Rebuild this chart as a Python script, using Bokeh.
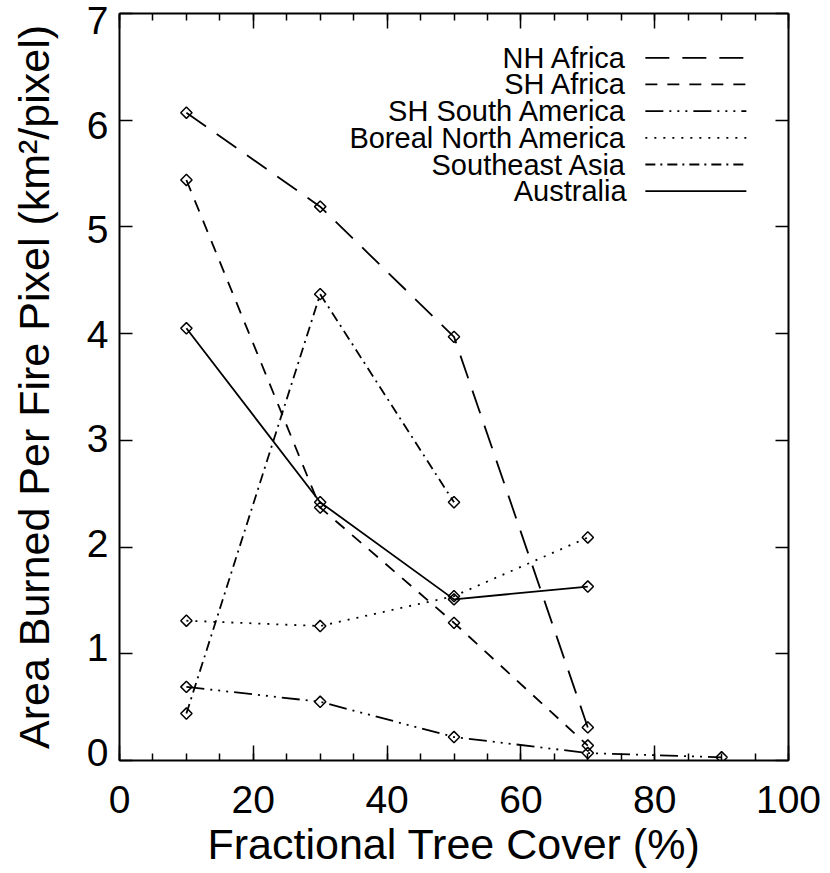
import numpy as np
from bokeh.plotting import figure
from bokeh.models import Range1d, FixedTicker, LinearAxis
from bokeh.core.properties import value
from bokeh.embed import file_html
from bokeh.resources import INLINE

# ---- data ----
names = ["NH Africa", "SH Africa", "SH South America",
         "Boreal North America", "Southeast Asia", "Australia"]
nh_africa_x = [10, 30, 50, 70]
nh_africa_y = [6.07, 5.19, 3.97, 0.31]
sh_africa_x = [10, 30, 50, 70]
sh_africa_y = [5.44, 2.37, 1.29, 0.14]
sh_samerica_x = [10, 30, 50, 70, 90]
sh_samerica_y = [0.69, 0.55, 0.22, 0.07, 0.03]
boreal_na_x = [10, 30, 50, 70]
boreal_na_y = [1.31, 1.26, 1.54, 2.09]
se_asia_x = [10, 30, 50]
se_asia_y = [0.44, 4.37, 2.42]
australia_x = [10, 30, 50, 70]
australia_y = [4.05, 2.42, 1.51, 1.63]

x_ticks = [0, 20, 40, 60, 80, 100]
x_minor = list(range(0, 101, 5))
y_ticks = [0, 1, 2, 3, 4, 5, 6, 7]

series_x = [nh_africa_x, sh_africa_x, sh_samerica_x, boreal_na_x, se_asia_x, australia_x]
series_y = [nh_africa_y, sh_africa_y, sh_samerica_y, boreal_na_y, se_asia_y, australia_y]

# ---- styles ----
dashes = ["24 13", "12 10", "18 6 2 6 2 6 2 6", "2 7", "10 5 2 5", "solid"]
FONT = "Liberation Sans"
LW = 1.8

p = figure(x_range=Range1d(0, 100), y_range=Range1d(0, 7),
           frame_width=669, frame_height=747,
           min_border_left=119, min_border_right=34,
           min_border_top=13, min_border_bottom=20,
           output_backend="svg", toolbar_location=None,
           background_fill_color="white", border_fill_color="white")
p.xgrid.visible = False
p.ygrid.visible = False
p.outline_line_color = None
# the y tick labels sit slightly inside the end ticks (as IDL draws them)
p.extra_y_ranges = {"labels": Range1d(-0.0765, 7.067)}

def style_axis(ax, major_len, minor_len, labels=True):
    ax.axis_line_width = 2
    ax.axis_line_color = "black"
    ax.major_tick_in = major_len
    ax.major_tick_out = 0
    ax.minor_tick_in = minor_len
    ax.minor_tick_out = 0
    ax.major_tick_line_width = 1.5
    ax.minor_tick_line_width = 1.5
    ax.major_tick_line_color = "black"
    ax.minor_tick_line_color = "black"
    ax.major_label_text_font = FONT
    ax.major_label_text_font_size = "39px"
    ax.major_label_text_color = "black"
    ax.axis_label_text_font = FONT
    ax.axis_label_text_font_style = "normal"
    ax.axis_label_text_color = "black"
    if not labels:
        ax.major_label_text_font_size = "1px"
        ax.major_label_text_color = None
        ax.major_label_standoff = 0

p.xaxis.ticker = FixedTicker(ticks=x_ticks, minor_ticks=x_minor)
p.yaxis.ticker = FixedTicker(ticks=y_ticks, minor_ticks=[])
style_axis(p.xaxis[0], 15, 7)
style_axis(p.yaxis[0], 13, 0, labels=False)
p.xaxis.major_label_standoff = 25
p.xaxis.axis_label = "Fractional Tree Cover (%)"
p.xaxis.axis_label_text_font_size = "43px"
p.xaxis.axis_label_standoff = 4

# left axis carrying the tick labels and the axis title
ylab = LinearAxis(y_range_name="labels",
                  ticker=FixedTicker(ticks=y_ticks, minor_ticks=[]))
style_axis(ylab, 0, 0)
ylab.axis_line_color = None
ylab.major_tick_line_color = None
ylab.minor_tick_line_color = None
ylab.major_label_standoff = 11
ylab.axis_label = "Area Burned Per Fire Pixel (km\u00b2/pixel)"
ylab.axis_label_text_font_size = "43px"
ylab.axis_label_standoff = 26
p.add_layout(ylab, "left")

top = LinearAxis(ticker=FixedTicker(ticks=x_ticks, minor_ticks=x_minor))
style_axis(top, 15, 7, labels=False)
p.add_layout(top, "above")
right = LinearAxis(ticker=FixedTicker(ticks=y_ticks, minor_ticks=[]))
style_axis(right, 13, 0, labels=False)
p.add_layout(right, "right")

for xs, ys, d in zip(series_x, series_y, dashes):
    p.line(xs, ys, line_color="black", line_width=LW, line_dash=d)
    p.scatter(xs, ys, marker="square", angle=np.pi / 4, size=8,
              fill_color=None, line_color="black", line_width=1.5)

# ---- legend (label right-aligned, line sample to its right) ----
leg_text_x = 75.8
leg_line_x0, leg_line_x1 = 78.6, 93.7
leg_y0, leg_dy = 6.585, 0.25
for i, (nm, d) in enumerate(zip(names, dashes)):
    yy = leg_y0 - i * leg_dy
    p.text(x=[leg_text_x], y=[yy], text=[nm], text_font=value(FONT),
           text_font_size="29px", text_align="right", text_baseline="middle",
           text_color="black")
    p.line([leg_line_x0, leg_line_x1], [yy, yy], line_color="black",
           line_width=LW, line_dash=d)

open("out.html", "w").write(file_html(p, INLINE))
